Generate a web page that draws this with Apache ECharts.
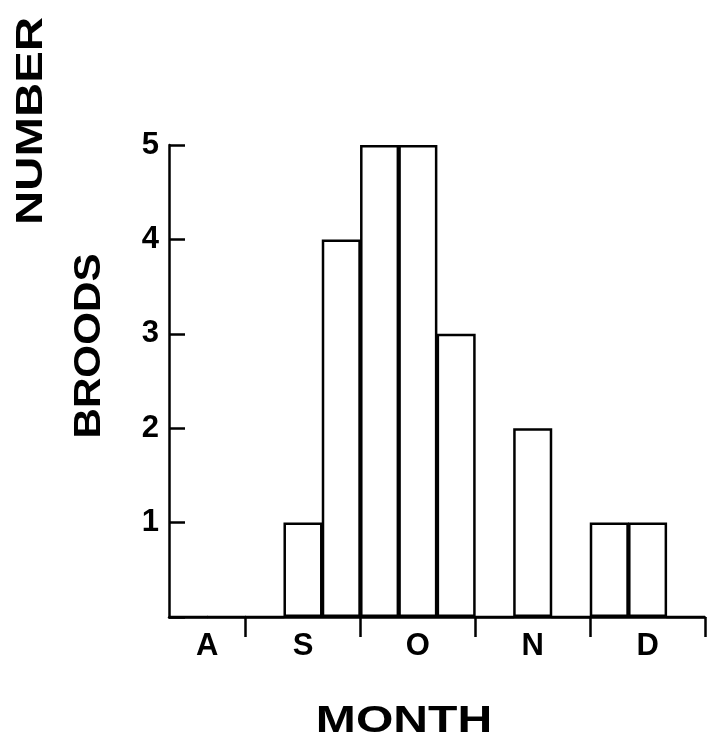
<!DOCTYPE html>
<html><head><meta charset="utf-8">
<script src="https://cdn.jsdelivr.net/npm/echarts@6/dist/echarts.min.js"></script>
<style>html,body{margin:0;padding:0;background:#fff}#c{width:709px;height:749px}</style>
</head><body><div id="c"></div>
<script>
// 10-day periods from mid-August to end of December
const bins = ['A2','A3','S1','S2','S3','O1','O2','O3','N1','N2','N3','D1','D2','D3'];
const broods = [0,0,0,1,4,5,5,3,0,2,0,1,1,0];
const monthLabels = ['A','S','O','N','D'];
const monthCenters = [1, 3.5, 6.5, 9.5, 12.5];   // in bin units
const monthStartBins = [2, 5, 8, 11];             // bins that open a new month
const yTickValues = [1, 2, 3, 4, 5];

const FONT = 'Liberation Sans, Arial, Helvetica, sans-serif';
const chart = echarts.init(document.getElementById('c'));
chart.setOption({
  animation: false,
  backgroundColor: '#fff',
  grid: { left: 169, right: 4, top: 145, bottom: 132, containLabel: false, outerBoundsMode: 'none' },
  xAxis: [{
    type: 'category',
    data: bins,
    position: 'bottom',
    boundaryGap: true,
    axisLine: { show: true, lineStyle: { color: '#000', width: 2.5 } },
    axisTick: { show: true, inside: false, length: 20, lineStyle: { color: '#000', width: 2.5 },
      interval: function (i) { return monthStartBins.indexOf(i) >= 0; } },
    axisLabel: { show: false },
    splitLine: { show: false }
  }, {
    type: 'value',
    position: 'bottom',
    min: 0, max: bins.length, interval: 0.5,
    axisLine: { show: false }, axisTick: { show: false }, splitLine: { show: false },
    axisLabel: {
      show: true, margin: 14, color: '#000', fontFamily: FONT, fontWeight: 'bold', fontSize: 31,
      showMinLabel: true, showMaxLabel: true,
      formatter: function (v) { const k = monthCenters.indexOf(v); return k >= 0 ? monthLabels[k] : ''; }
    }
  }],
  yAxis: {
    type: 'value',
    min: 0, max: 5, interval: 1,
    axisLine: { show: true, lineStyle: { color: '#000', width: 2.5 } },
    axisTick: { show: true, inside: true, length: 16, lineStyle: { color: '#000', width: 2.5 } },
    axisLabel: { color: '#000', fontFamily: FONT, fontWeight: 'bold', fontSize: 31, margin: 10,
      formatter: function (v) { return yTickValues.indexOf(v) >= 0 ? String(v) : ''; } },
    splitLine: { show: false }
  },
  series: [{
    type: 'bar',
    xAxisIndex: 0,
    data: broods,
    barWidth: '102%',
    itemStyle: { color: '#fff', borderColor: '#000', borderWidth: 2.5 }
  }],
  graphic: [
    { type: 'text', x: 32, y: 121, rotation: Math.PI / 2, scaleX: 1.28,
      style: { text: 'NUMBER', fill: '#000', font: 'bold 37px ' + FONT, textAlign: 'center', textVerticalAlign: 'middle' } },
    { type: 'text', x: 90, y: 346, rotation: Math.PI / 2, scaleX: 1.14,
      style: { text: 'BROODS', fill: '#000', font: 'bold 37px ' + FONT, textAlign: 'center', textVerticalAlign: 'middle' } },
    { type: 'text', x: 404, y: 722, scaleX: 1.3,
      style: { text: 'MONTH', fill: '#000', font: 'bold 37px ' + FONT, textAlign: 'center', textVerticalAlign: 'middle' } }
  ]
});
</script></body></html>
